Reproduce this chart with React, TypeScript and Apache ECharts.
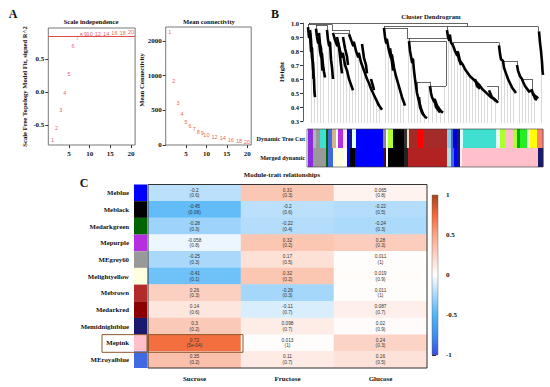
import React, { useEffect, useRef } from 'react';
import * as echarts from 'echarts';

// ---------- Panel A data ----------
const powers = [1, 2, 3, 4, 5, 6, 7, 8, 9, 10, 12, 14, 16, 18, 20];
const scaleFitR2 = [-0.73, -0.55, -0.28, -0.02, 0.27, 0.69, 0.82, 0.87, 0.885, 0.885, 0.88, 0.885, 0.89, 0.89, 0.91];
const meanConnectivity = [1626, 923, 602, 443, 336, 274, 226, 183, 168, 144, 115, 97, 72, 62, 48];
const powerTicks = [5, 10, 15, 20];
const r2Ticks = [-0.5, 0, 0.5];
const r2Cut = 0.85;
const meanKTickValues = [0, 500, 1000, 1500];
const meanKTickLabels = ['0', '500', '1000', '2000'];

// ---------- Panel B data ----------
const dendroTicks = [0.3, 0.4, 0.5, 0.6, 0.7, 0.8, 0.9, 1.0];
const leafBottom = 0.285;
const dendroSegments = [
  [2, 1.0, 160, 1.0], [2, 1.0, 2, 0.99], [160, 1.0, 160, 0.975],
  [77, 0.975, 231, 0.975], [231, 0.975, 231, 0.94], [77, 0.975, 77, 0.965],
  [1, 0.99, 25, 0.99], [1, 0.99, 1, 0.97], [25, 0.99, 25, 0.95],
  [9, 0.985, 20, 0.985], [9, 0.985, 9, 0.96], [20, 0.985, 20, 0.95],
  [25, 0.95, 42, 0.95], [28, 0.93, 42, 0.93], [42, 0.95, 42, 0.92],
  [77, 0.965, 100, 0.965], [100, 0.965, 100, 0.89],
  [100, 0.89, 140, 0.89], [102, 0.87, 139, 0.87], [102, 0.89, 102, 0.87],
  [139, 0.87, 139, 0.55], [110, 0.58, 123, 0.58], [110, 0.58, 110, 0.5],
  [123, 0.58, 123, 0.55], [123, 0.55, 139, 0.55],
  [140, 0.975, 140, 0.95],
  [146, 0.86, 192, 0.86], [146, 0.86, 146, 0.84], [192, 0.86, 192, 0.84],
  [180, 0.55, 191, 0.55], [191, 0.55, 191, 0.45],
  [196, 0.73, 210, 0.73], [210, 0.73, 210, 0.7],
  [215, 0.6, 225, 0.6], [225, 0.6, 225, 0.52]
];
const dendroSpines = [
  [[1, 0.97], [2, 0.9], [3, 0.92], [4, 0.8], [5, 0.82], [6, 0.68], [7, 0.6], [7.5, 0.5], [8, 0.47]],
  [[3, 0.95], [4, 0.88], [5, 0.75], [6, 0.72], [6.5, 0.6]],
  [[9, 0.96], [10, 0.9], [11, 0.86], [12, 0.88], [13, 0.8], [14, 0.76], [15, 0.78], [16, 0.7], [17, 0.65], [18, 0.61]],
  [[12, 0.93], [13, 0.85], [14, 0.82], [15, 0.7], [15.5, 0.66]],
  [[20, 0.95], [21, 0.88], [22, 0.84], [23, 0.86], [24, 0.74], [25, 0.68], [26, 0.6]],
  [[26, 0.93], [28, 0.88], [30, 0.84], [31, 0.86], [33, 0.8], [35, 0.76], [36, 0.78], [38, 0.7], [40, 0.66], [42, 0.6], [44, 0.56], [46, 0.52]],
  [[30, 0.9], [32, 0.83], [34, 0.7], [35, 0.64]],
  [[36, 0.9], [38, 0.82], [40, 0.76], [41, 0.7]],
  [[42, 0.92], [44, 0.88], [46, 0.84], [47, 0.86], [49, 0.8], [51, 0.76], [52, 0.78], [54, 0.72], [56, 0.68], [58, 0.64], [60, 0.6], [62, 0.57], [64, 0.53], [66, 0.5], [68, 0.47], [70, 0.44], [72, 0.41], [75, 0.38]],
  [[55, 0.85], [57, 0.75], [59, 0.7], [60, 0.64]],
  [[64, 0.6], [66, 0.55], [67, 0.52]],
  [[77, 0.965], [78, 0.9], [79, 0.86], [80, 0.88], [82, 0.8], [84, 0.75], [85, 0.77], [87, 0.68], [89, 0.62], [91, 0.57], [93, 0.52], [95, 0.47], [97, 0.43], [98, 0.41]],
  [[83, 0.82], [85, 0.72], [86, 0.66]],
  [[102, 0.87], [103, 0.8], [104, 0.76], [105, 0.72], [106, 0.74], [107, 0.66], [108, 0.6], [109, 0.55], [110, 0.5], [112, 0.44], [114, 0.39], [116, 0.35], [118, 0.33], [120, 0.32]],
  [[112, 0.47], [113, 0.4], [115, 0.36], [117, 0.34]],
  [[123, 0.55], [124, 0.5], [125, 0.47], [127, 0.44], [128, 0.45], [130, 0.41], [132, 0.39], [134, 0.37], [136, 0.36]],
  [[127, 0.46], [129, 0.4], [131, 0.38], [133, 0.36]],
  [[140, 0.95], [141, 0.9], [142, 0.88], [143, 0.91], [144, 0.86], [146, 0.84]],
  [[146, 0.84], [148, 0.8], [150, 0.77], [151, 0.79], [153, 0.73], [156, 0.7], [158, 0.67], [160, 0.65], [163, 0.62], [166, 0.6], [169, 0.58], [172, 0.56], [175, 0.53], [178, 0.51], [181, 0.49], [184, 0.47], [187, 0.46], [190, 0.44], [191, 0.43]],
  [[150, 0.8], [152, 0.74], [154, 0.7]],
  [[168, 0.6], [170, 0.55], [173, 0.53]],
  [[182, 0.52], [185, 0.47], [189, 0.44]],
  [[192, 0.84], [193, 0.78], [194, 0.74], [196, 0.73], [197, 0.68], [199, 0.64], [201, 0.6], [203, 0.57], [205, 0.54], [207, 0.52], [209, 0.5]],
  [[210, 0.7], [211, 0.66], [213, 0.62], [215, 0.6], [216, 0.58], [218, 0.55], [220, 0.53], [222, 0.51], [225, 0.52], [226, 0.49], [228, 0.48], [230, 0.47], [231, 0.46]],
  [[226, 0.5], [228, 0.46], [230, 0.45]],
  [[232, 0.94], [233, 0.86], [234, 0.8], [235, 0.72], [235.5, 0.66], [236, 0.63]]
];
const dendroLeaves = [
  [4, 0.8], [7, 0.55], [10, 0.9], [13, 0.8], [16, 0.7], [21, 0.88], [24, 0.74], [27, 0.9], [30, 0.84], [33, 0.8], [36, 0.78], [39, 0.69], [42, 0.6], [45, 0.54], [48, 0.82], [51, 0.76], [54, 0.72], [57, 0.66], [60, 0.6], [63, 0.55], [66, 0.5], [69, 0.46], [72, 0.41],
  [78, 0.9], [81, 0.84], [84, 0.75], [87, 0.68], [90, 0.6], [93, 0.52], [96, 0.45],
  [101, 0.88], [104, 0.76], [107, 0.66], [110, 0.5], [113, 0.42], [117, 0.34], [121, 0.56], [125, 0.47], [129, 0.42], [133, 0.38], [137, 0.55],
  [141, 0.9], [144, 0.86], [147, 0.8], [150, 0.77], [153, 0.73], [156, 0.7], [159, 0.66], [162, 0.63], [165, 0.6], [168, 0.58], [171, 0.56], [174, 0.54], [177, 0.52], [180, 0.5], [184, 0.47], [188, 0.46],
  [194, 0.75], [197, 0.68], [200, 0.62], [203, 0.57], [206, 0.53], [212, 0.64], [215, 0.6], [218, 0.55], [221, 0.53], [224, 0.52], [227, 0.48], [234, 0.8]
];
const colorRowNames = ['Dynamic Tree Cut', 'Merged dynamic'];
const dynamicTreeCut = [
  [1, 6, '#8a2be2'], [6, 9, '#b4b4b4'], [9, 13, '#999999'], [13, 19, '#40e0d0'], [19, 21, '#006400'], [21, 25, '#4169e1'], [25, 29, '#d2b48c'], [29, 31, '#ffffff'], [31, 36, '#b52ee0'], [36, 40, '#fde8ee'], [40, 42, '#0000ff'], [42, 45, '#191970'], [45, 49, '#e0ffff'], [49, 76, '#0000ff'], [76, 79, '#8c8c8c'], [79, 81, '#ffffff'], [81, 86, '#adff2f'], [86, 97, '#000000'], [97, 100, '#333333'], [100, 102, '#f5deb3'], [102, 110, '#a52a2a'], [110, 116, '#ff0000'], [116, 140, '#a52a2a'], [140, 144, '#87ceeb'], [144, 146, '#4169e1'], [146, 150, '#0000cd'], [150, 153, '#191970'], [153, 156, '#e0ffff'], [156, 189, '#40e0d0'], [189, 193, '#e0ffff'], [193, 198, '#adff2f'], [198, 206, '#ffc0cb'], [206, 210, '#adff2f'], [210, 213, '#00b000'], [213, 220, '#22ee22'], [220, 223, '#e8ffe8'], [223, 230, '#ffff00'], [230, 236, '#fa8072']
];
const mergedDynamic = [
  [1, 6, '#8a2be2'], [6, 19, '#999999'], [19, 21, '#006400'], [21, 26, '#4169e1'], [26, 36, '#ffffe0'], [36, 40, '#ffffff'], [40, 43, '#0000ff'], [43, 48, '#000000'], [48, 76, '#0000ff'], [76, 79, '#4a1010'], [79, 81, '#ffffff'], [81, 97, '#000000'], [97, 101, '#222222'], [101, 140, '#b22222'], [140, 144, '#b0e0e6'], [144, 147, '#4169e1'], [147, 150, '#0000ff'], [150, 153, '#191970'], [153, 155, '#f0f0f0'], [155, 231, '#ffc0cb'], [231, 236, '#191970']
];

// ---------- Panel C data ----------
const traits = ['Sucrose', 'Fructose', 'Glucose'];
const modules = ['Meblue', 'Meblack', 'Medarkgreen', 'Mepurple', 'MEgrey60', 'Melightyellow', 'Mebrown', 'Medarkred', 'Memidnightblue', 'Mepink', 'MEroyalblue'];
const moduleColors = ['#0000ff', '#000000', '#006400', '#b52ee0', '#999999', '#ffffe0', '#b22a2a', '#8b0000', '#191970', '#ffc0cb', '#4169e1'];
const corSucrose = [-0.2, -0.45, -0.28, -0.058, -0.25, -0.41, 0.26, 0.14, 0.3, 0.72, 0.35];
const pSucrose = ['0.6', '0.08', '0.3', '0.8', '0.3', '0.1', '0.3', '0.6', '0.2', '5e-04', '0.2'];
const corFructose = [0.31, -0.2, -0.22, 0.32, 0.17, 0.32, -0.26, -0.11, 0.098, 0.013, 0.11];
const pFructose = ['0.3', '0.6', '0.4', '0.2', '0.5', '0.2', '0.3', '0.7', '0.7', '1', '0.7'];
const corGlucose = [0.065, -0.22, -0.24, 0.28, 0.011, 0.019, 0.011, 0.087, 0.02, 0.24, 0.16];
const pGlucose = ['0.8', '0.5', '0.3', '0.3', '1', '0.9', '1', '0.7', '0.9', '0.3', '0.5'];
const colorbarTicks = [-1, -0.5, 0, 0.5, 1];
const colorScale = ['#3b4fe0', '#3d8ff0', '#4fb5f7', '#a9d8fb', '#ffffff', '#fcd2c3', '#f8a688', '#f36736', '#a9451a'];
const highlightModule = 'Mepink';
const highlightTrait = 'Sucrose';

const SERIF = '"Liberation Serif", "DejaVu Serif", serif';
const SANS = '"Liberation Sans", Arial, sans-serif';
const B = { fontFamily: SERIF, fontWeight: 'bold', color: '#111' } as any;

function txt(text: string, x: number, y: number, size: number, align = 'center', rotation = 0) {
  return {
    type: 'text', x, y, rotation, silent: true, z: 100,
    style: { text, fill: '#111', font: `bold ${size}px ${SERIF}`, align, verticalAlign: 'middle' }
  };
}

export default function App() {
  const ref = useRef<HTMLDivElement>(null);
  useEffect(() => {
    if (!ref.current) return;
    const chart = echarts.init(ref.current, undefined, { renderer: 'svg' });
    const corMatrix = [corSucrose, corFructose, corGlucose];
    const pMatrix = [pSucrose, pFructose, pGlucose];
    const heatData: number[][] = [];
    traits.forEach((_, xi) => modules.forEach((__, yi) => heatData.push([xi, yi, corMatrix[xi][yi]])));
    const rowSegs: any[] = [];
    dynamicTreeCut.forEach((s) => rowSegs.push({ value: [s[0], s[1], 0], color: s[2] }));
    mergedDynamic.forEach((s) => rowSegs.push({ value: [s[0], s[1], 1], color: s[2] }));

    const tickAxisLabel = { ...B, fontSize: 7 };
    const powerLabel = {
      show: true, position: 'inside', formatter: (p: any) => String(p.value[0]),
      color: '#e83030', fontSize: 5.5, fontFamily: SANS
    };
    const baseGraphic: any[] = [
      txt('A', 13, 14, 12),
      txt('B', 275, 14, 12),
      txt('C', 84, 183, 12),
      txt('Scale independence', 91, 21, 6.6),
      txt('Mean connectivity', 209, 21, 6.6),
      txt('Cluster Dendrogram', 431, 16, 6.7),
      txt('Module-trait relationships', 282, 174, 6.8),
      txt('Mean Connectivity', 141, 80, 6.6, 'center', Math.PI / 2)
    ];
    const series: any[] = [
      {
        type: 'scatter', xAxisIndex: 0, yAxisIndex: 0, symbolSize: 1, itemStyle: { color: 'rgba(0,0,0,0)' },
        data: powers.map((p, i) => [p, scaleFitR2[i]]),
        label: powerLabel,
        markLine: {
          silent: true, symbol: ['none', 'none'], label: { show: false },
          lineStyle: { color: '#e04848', width: 1.1, type: 'solid' }, data: [{ yAxis: r2Cut }]
        }
      },
      {
        type: 'scatter', xAxisIndex: 1, yAxisIndex: 1, symbolSize: 1, itemStyle: { color: 'rgba(0,0,0,0)' },
        data: powers.map((p, i) => [p, meanConnectivity[i]]),
        label: powerLabel
      },
      {
        type: 'lines', coordinateSystem: 'cartesian2d', xAxisIndex: 2, yAxisIndex: 2, silent: true, clip: false,
        data: dendroLeaves.map((l) => ({ coords: [[l[0], l[1]], [l[0], leafBottom]] })),
        lineStyle: { color: '#c8c8c8', width: 0.7, opacity: 1 }
      },
      {
        type: 'lines', coordinateSystem: 'cartesian2d', xAxisIndex: 2, yAxisIndex: 2, silent: true, clip: false,
        data: dendroSegments.map((s) => ({ coords: [[s[0], s[1]], [s[2], s[3]]] })),
        lineStyle: { color: '#222', width: 0.7, opacity: 1 }
      },
      {
        type: 'lines', coordinateSystem: 'cartesian2d', xAxisIndex: 2, yAxisIndex: 2, silent: true, clip: false, polyline: true,
        data: dendroSpines.map((s) => ({ coords: s })),
        lineStyle: { color: '#000', width: 2.6, opacity: 1, join: 'round' }
      },
      {
        type: 'custom', xAxisIndex: 3, yAxisIndex: 3, silent: true,
        data: rowSegs.map((r) => r.value),
        renderItem: (params: any, api: any) => {
          const p0 = api.coord([api.value(0), api.value(2)]);
          const p1 = api.coord([api.value(1), api.value(2)]);
          const h = api.size([0, 1])[1];
          return {
            type: 'rect',
            shape: { x: p0[0], y: p0[1] - h / 2, width: p1[0] - p0[0] + 0.4, height: h },
            style: { fill: rowSegs[params.dataIndex].color }
          };
        }
      },
      {
        type: 'heatmap', xAxisIndex: 4, yAxisIndex: 4, data: heatData, silent: true,
        label: {
          show: true, color: '#333', fontSize: 4.8, lineHeight: 5.6, fontFamily: SANS,
          formatter: (p: any) => {
            const xi = p.value[0], yi = p.value[1];
            return `${corMatrix[xi][yi]}\n(${pMatrix[xi][yi]})`;
          }
        },
        emphasis: { disabled: true }
      },
      {
        type: 'bar', xAxisIndex: 5, yAxisIndex: 5, barWidth: '100%', silent: true,
        data: modules.map((m, i) => ({ value: 1, itemStyle: { color: moduleColors[i] } }))
      },
      {
        type: 'custom', xAxisIndex: 6, yAxisIndex: 6, silent: true,
        data: [[colorbarTicks[0], colorbarTicks[colorbarTicks.length - 1]]],
        renderItem: (params: any, api: any) => {
          const top = api.coord([0, api.value(1)]);
          const bot = api.coord([1, api.value(0)]);
          const n = colorScale.length;
          const stops = colorScale.slice().reverse().map((c, i) => ({ offset: i / (n - 1), color: c }));
          return {
            type: 'rect',
            shape: { x: top[0], y: top[1], width: bot[0] - top[0], height: bot[1] - top[1] },
            style: { fill: new echarts.graphic.LinearGradient(0, 0, 0, 1, stops), stroke: '#555', lineWidth: 0.4 }
          };
        }
      },
      {
        type: 'custom', xAxisIndex: 4, yAxisIndex: 4, silent: true, z: 10,
        data: [[traits.indexOf(highlightTrait), modules.indexOf(highlightModule)]],
        renderItem: (params: any, api: any) => {
          const c = api.coord([api.value(0), api.value(1)]);
          const s = api.size([1, 1]);
          const x0 = c[0] - s[0] / 2;
          const y0 = c[1] - s[1] / 2;
          const st = { fill: 'none', stroke: '#8b5a2b', lineWidth: 1 };
          return {
            type: 'group',
            children: [
              { type: 'rect', shape: { x: x0, y: y0, width: s[0] + 2, height: s[1] + 1 }, style: st },
              { type: 'rect', shape: { x: x0 - 46, y: y0, width: 45, height: s[1] + 1 }, style: st }
            ]
          };
        }
      }
    ];
    const heatIndex = series.findIndex((s) => s.type === 'heatmap');

    const option: any = {
      animation: false,
      backgroundColor: '#ffffff',
      graphic: baseGraphic,
      grid: [
        { left: 48.3, top: 28, width: 86.8, height: 117, show: true, borderColor: '#555', borderWidth: 0.8, backgroundColor: 'transparent', z: 5 },
        { left: 165.7, top: 27, width: 85.5, height: 118, show: true, borderColor: '#555', borderWidth: 0.8, backgroundColor: 'transparent', z: 5 },
        { left: 307, top: 23, width: 236, height: 98 },
        { left: 307, top: 129, width: 236, height: 38, show: true, borderColor: '#333', borderWidth: 0.6, backgroundColor: 'transparent', z: 5 },
        { left: 148, top: 184.5, width: 279, height: 183.5, show: true, borderColor: '#333', borderWidth: 1, backgroundColor: 'transparent', z: 5 },
        { left: 134, top: 184.5, width: 13, height: 183.5 },
        { left: 432, top: 195, width: 6, height: 160 }
      ],
      xAxis: [
        {
          gridIndex: 0, type: 'value', min: 0, max: 21, axisLine: { show: false, onZero: false }, splitLine: { show: false },
          axisTick: { customValues: powerTicks, length: 3, lineStyle: { color: '#333' } },
          axisLabel: { ...tickAxisLabel, customValues: powerTicks, margin: 5 }
        },
        {
          gridIndex: 1, type: 'value', min: 0, max: 21, axisLine: { show: false, onZero: false }, splitLine: { show: false },
          axisTick: { customValues: powerTicks, length: 3, lineStyle: { color: '#333' } },
          axisLabel: { ...tickAxisLabel, customValues: powerTicks, margin: 5 }
        },
        { gridIndex: 2, type: 'value', min: 0, max: 236, show: false },
        { gridIndex: 3, type: 'value', min: 0, max: 236, show: false },
        {
          gridIndex: 4, type: 'category', data: traits, axisLine: { show: false }, axisTick: { show: false },
          axisLabel: { ...B, fontSize: 7, margin: 7 }
        },
        { gridIndex: 5, type: 'value', min: 0, max: 1, show: false },
        { gridIndex: 6, type: 'value', min: 0, max: 1, show: false }
      ],
      yAxis: [
        {
          gridIndex: 0, type: 'value', min: -0.803, max: 0.97, axisLine: { show: false, onZero: false }, splitLine: { show: false },
          axisTick: { customValues: r2Ticks, length: 3, lineStyle: { color: '#333' } },
          axisLabel: { ...tickAxisLabel, customValues: r2Ticks, margin: 4, formatter: (v: number) => Number(v).toFixed(1) },
          name: 'Scale Free Topology Model Fit, signed R^2', nameLocation: 'middle', nameGap: 20,
          nameTextStyle: { ...B, fontSize: 6.6 }
        },
        {
          gridIndex: 1, type: 'value', min: 0, max: 1702,
          axisLine: { show: false, onZero: false }, splitLine: { show: false },
          axisTick: { customValues: meanKTickValues, length: 3, lineStyle: { color: '#333' } },
          axisLabel: { show: false }
        },
        {
          gridIndex: 2, type: 'value', min: 0.3, max: 1.0, offset: 4, splitLine: { show: false },
          axisLine: { show: true, onZero: false, lineStyle: { color: '#333', width: 0.8 } },
          axisTick: { customValues: dendroTicks, length: 3, lineStyle: { color: '#333' } },
          axisLabel: { ...B, fontSize: 6.5, customValues: dendroTicks, margin: 4, formatter: (v: number) => Number(v).toFixed(1) },
          name: 'Height', nameLocation: 'middle', nameGap: 18, nameTextStyle: { ...B, fontSize: 7 }
        },
        {
          gridIndex: 3, type: 'category', data: colorRowNames, inverse: true, axisLine: { show: false }, axisTick: { show: false },
          axisLabel: { ...B, fontSize: 6.2, margin: 2 }
        },
        { gridIndex: 4, type: 'category', data: modules, inverse: true, axisLine: { show: false }, axisTick: { show: false }, axisLabel: { show: false } },
        {
          gridIndex: 5, type: 'category', data: modules, inverse: true, axisLine: { show: false }, axisTick: { show: false },
          axisLabel: { ...B, fontSize: 6.8, margin: 5 }
        },
        {
          gridIndex: 6, type: 'value', min: -1, max: 1, interval: 0.5, position: 'right', splitLine: { show: false },
          axisLine: { show: false },
          axisTick: { show: true, length: 4, lineStyle: { color: '#222' } },
          axisLabel: { ...B, fontSize: 7, margin: 8, formatter: (v: number) => String(v) }
        }
      ],
      visualMap: {
        show: false, type: 'continuous', min: -1, max: 1, dimension: 2, seriesIndex: heatIndex,
        inRange: { color: colorScale }
      },
      series
    };
    chart.setOption(option);

    // Tick labels of the mean-connectivity axis, positioned through that axis' scale.
    const tickTexts: any[] = [];
    meanKTickValues.forEach((v, i) => {
      const p = chart.convertToPixel({ xAxisIndex: 1, yAxisIndex: 1 } as any, [0, v]) as number[];
      const ok = Array.isArray(p) && isFinite(p[0]) && isFinite(p[1]);
      const px = ok ? p[0] : 165.7;
      const py = ok ? p[1] : 145 - v * 0.0693;
      tickTexts.push({
        type: 'text', x: px - 4, y: py, silent: true, z: 100,
        style: { text: meanKTickLabels[i], fill: '#111', font: `bold 7px ${SERIF}`, align: 'right', verticalAlign: 'middle' }
      });
    });
    chart.setOption({ graphic: [...baseGraphic, ...tickTexts] });
    return () => chart.dispose();
  }, []);
  return <div ref={ref} style={{ position: 'fixed', left: 0, top: 0, width: 550, height: 387 }} />;
}
